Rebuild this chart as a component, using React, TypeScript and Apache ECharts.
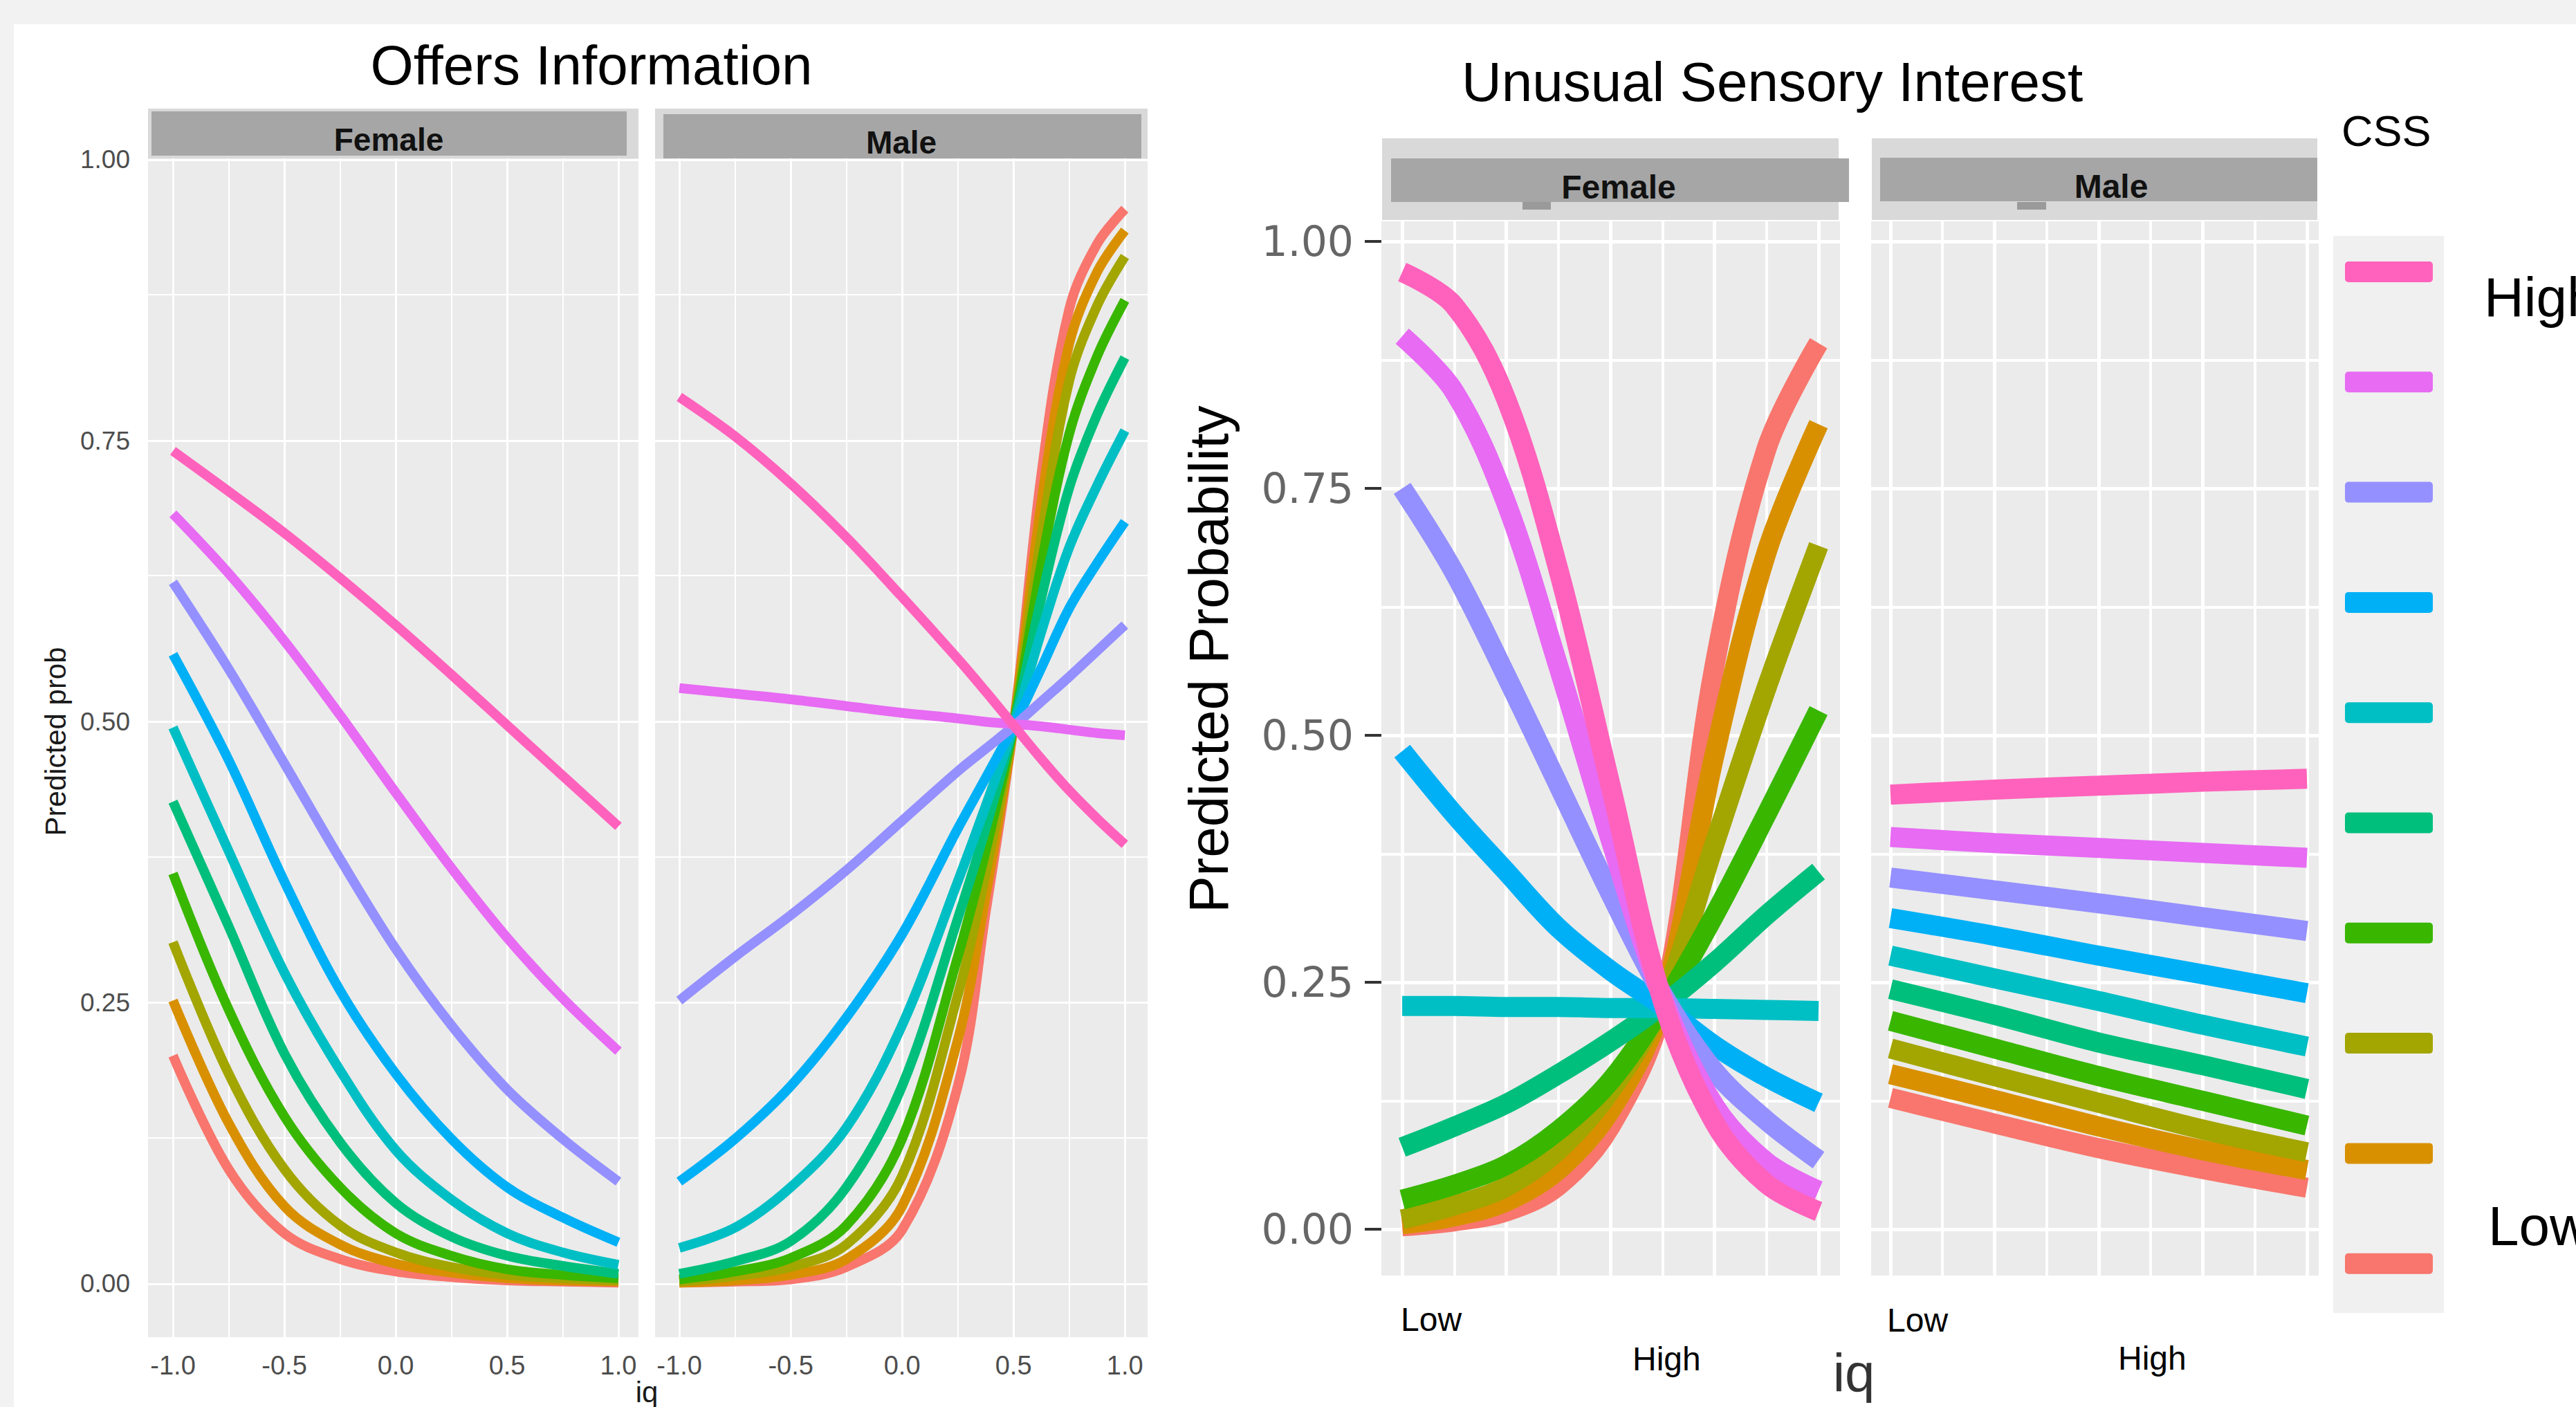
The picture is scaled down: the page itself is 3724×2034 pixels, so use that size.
import React, { useEffect, useRef } from "react";
import * as echarts from "echarts";

// CSS levels, drawn from Low to High (ggplot hue palette)
const CSS_COLORS = ["#F8766D", "#D89000", "#A3A500", "#39B600", "#00BF7D", "#00BFC4", "#00B0F6", "#9590FF", "#E76BF3", "#FF62BC"];
const CSS_NAMES = ["1", "2", "3", "4", "5", "6", "7", "8", "9", "10"];

// ---- Offers Information (left), x = iq ----
const OI_FEMALE_X = [-1, -0.75, -0.5, -0.25, 0, 0.25, 0.5, 0.75, 1];
const OI_FEMALE = [
  [0.203, 0.102, 0.045, 0.022, 0.011, 0.006, 0.003, 0.002, 0.001],
  [0.252, 0.143, 0.069, 0.035, 0.018, 0.010, 0.005, 0.003, 0.002],
  [0.304, 0.187, 0.102, 0.052, 0.028, 0.015, 0.008, 0.005, 0.003],
  [0.365, 0.244, 0.149, 0.086, 0.045, 0.025, 0.013, 0.008, 0.005],
  [0.429, 0.318, 0.205, 0.126, 0.072, 0.042, 0.025, 0.016, 0.009],
  [0.495, 0.385, 0.277, 0.190, 0.119, 0.075, 0.045, 0.028, 0.017],
  [0.560, 0.466, 0.358, 0.261, 0.187, 0.129, 0.086, 0.059, 0.037],
  [0.624, 0.547, 0.463, 0.378, 0.298, 0.230, 0.173, 0.129, 0.091],
  [0.685, 0.632, 0.572, 0.506, 0.437, 0.370, 0.308, 0.254, 0.207],
  [0.741, 0.705, 0.668, 0.628, 0.586, 0.542, 0.497, 0.452, 0.407],
];
const OI_MALE_X = [-1, -0.75, -0.5, -0.25, 0, 0.25, 0.375, 0.5, 0.625, 0.75, 0.875, 1];
const OI_MALE = [
  [0.001, 0.002, 0.004, 0.015, 0.048, 0.176, 0.330, 0.496, 0.720, 0.867, 0.925, 0.956],
  [0.001, 0.003, 0.008, 0.022, 0.069, 0.217, 0.345, 0.496, 0.695, 0.836, 0.900, 0.937],
  [0.002, 0.007, 0.015, 0.035, 0.096, 0.257, 0.365, 0.496, 0.665, 0.803, 0.870, 0.914],
  [0.004, 0.011, 0.023, 0.052, 0.129, 0.291, 0.385, 0.496, 0.640, 0.756, 0.825, 0.875],
  [0.009, 0.020, 0.038, 0.086, 0.176, 0.325, 0.405, 0.496, 0.610, 0.708, 0.773, 0.824],
  [0.032, 0.050, 0.086, 0.139, 0.230, 0.358, 0.425, 0.496, 0.580, 0.655, 0.710, 0.759],
  [0.091, 0.129, 0.176, 0.237, 0.311, 0.405, 0.450, 0.496, 0.548, 0.601, 0.641, 0.678],
  [0.252, 0.291, 0.328, 0.368, 0.412, 0.456, 0.476, 0.496, 0.518, 0.540, 0.563, 0.586],
  [0.530, 0.525, 0.520, 0.514, 0.508, 0.503, 0.500, 0.498, 0.496, 0.493, 0.490, 0.488],
  [0.789, 0.754, 0.712, 0.664, 0.611, 0.556, 0.527, 0.497, 0.467, 0.439, 0.414, 0.391],
];
const OI_X_TICKS = [-1, -0.5, 0, 0.5, 1];
const OI_X_MINOR = [-0.75, -0.25, 0.25, 0.75];

// ---- Unusual Sensory Interest (right), x = iq from Low (1) to High (5) ----
const USI_FEMALE_X = [1, 1.5, 2, 2.5, 3, 3.5, 4, 4.5, 5];
const USI_FEMALE = [
  [0.003, 0.008, 0.018, 0.044, 0.104, 0.225, 0.570, 0.790, 0.897],
  [0.005, 0.013, 0.028, 0.060, 0.120, 0.228, 0.480, 0.685, 0.815],
  [0.010, 0.024, 0.043, 0.080, 0.140, 0.230, 0.390, 0.548, 0.692],
  [0.030, 0.045, 0.065, 0.100, 0.150, 0.226, 0.318, 0.420, 0.525],
  [0.083, 0.104, 0.127, 0.157, 0.190, 0.227, 0.270, 0.318, 0.362],
  [0.226, 0.226, 0.225, 0.225, 0.224, 0.224, 0.223, 0.222, 0.221],
  [0.484, 0.420, 0.362, 0.305, 0.262, 0.226, 0.186, 0.154, 0.128],
  [0.750, 0.665, 0.560, 0.450, 0.340, 0.238, 0.160, 0.110, 0.070],
  [0.904, 0.848, 0.735, 0.570, 0.395, 0.235, 0.125, 0.068, 0.039],
  [0.969, 0.935, 0.840, 0.668, 0.450, 0.232, 0.108, 0.046, 0.018],
];
const USI_MALE_X = [1, 2, 3, 4, 5];
const USI_MALE = [
  [0.133, 0.107, 0.082, 0.061, 0.042],
  [0.157, 0.131, 0.104, 0.080, 0.060],
  [0.183, 0.155, 0.128, 0.101, 0.078],
  [0.211, 0.183, 0.155, 0.130, 0.105],
  [0.243, 0.217, 0.189, 0.166, 0.142],
  [0.277, 0.254, 0.231, 0.207, 0.185],
  [0.315, 0.297, 0.277, 0.258, 0.239],
  [0.356, 0.343, 0.330, 0.316, 0.302],
  [0.397, 0.391, 0.386, 0.381, 0.376],
  [0.440, 0.445, 0.449, 0.453, 0.456],
];
const USI_X_TICKS = [1, 2, 3, 4, 5];
const USI_X_MINOR = [1.5, 2.5, 3.5, 4.5];

const Y_TICKS = [0, 0.25, 0.5, 0.75, 1];
const Y_MINOR = [0.125, 0.375, 0.625, 0.875];

const FONT = "Liberation Sans";

function gridLineSeries(g: number, xMaj: number[], xMin: number[], wMaj: number, wMin: number) {
  const data: any[] = [];
  xMin.forEach((v) => data.push({ xAxis: v, lineStyle: { width: wMin } }));
  Y_MINOR.forEach((v) => data.push({ yAxis: v, lineStyle: { width: wMin } }));
  xMaj.forEach((v) => data.push({ xAxis: v, lineStyle: { width: wMaj } }));
  Y_TICKS.forEach((v) => data.push({ yAxis: v, lineStyle: { width: wMaj } }));
  return {
    type: "line",
    xAxisIndex: g,
    yAxisIndex: g,
    data: [],
    silent: true,
    z: 1,
    markLine: {
      z: 1,
      silent: true,
      animation: false,
      symbol: ["none", "none"],
      label: { show: false },
      emphasis: { disabled: true },
      lineStyle: { color: "#ffffff", type: "solid", opacity: 1 },
      data,
    },
  };
}

function curveSeries(g: number, xs: number[], vals: number[][], width: number, smooth: number) {
  return vals.map((row, i) => ({
    type: "line",
    name: CSS_NAMES[i],
    xAxisIndex: g,
    yAxisIndex: g,
    data: xs.map((x, j) => [x, row[j]]),
    smooth,
    showSymbol: false,
    symbol: "none",
    silent: true,
    z: 3,
    lineStyle: { width, color: CSS_COLORS[i], cap: "butt" },
    itemStyle: { color: CSS_COLORS[i] },
  }));
}

function txt(text: string, x: number, y: number, size: number, opts: any = {}) {
  return {
    type: "text",
    x,
    y,
    rotation: opts.rotation || 0,
    z: 10,
    style: {
      text,
      fill: opts.fill || "#000000",
      fontSize: size,
      fontFamily: opts.family || FONT,
      fontWeight: opts.weight || "normal",
      align: opts.align || "center",
      verticalAlign: "middle",
    },
  };
}

function rect(x: number, y: number, w: number, h: number, fill: string, r = 0) {
  return { type: "rect", shape: { x, y, width: w, height: h, r }, style: { fill }, z: 0, silent: true };
}

export default function App() {
  const ref = useRef<HTMLDivElement>(null);
  useEffect(() => {
    const chart = echarts.init(ref.current!, null, { renderer: "svg" });

    const leftXAxis = (g: number, min: number, max: number) => ({
      type: "value",
      gridIndex: g,
      min,
      max,
      axisLine: { show: false },
      splitLine: { show: false },
      axisTick: { show: true, customValues: OI_X_TICKS, length: 13, lineStyle: { color: "#333333", width: 3 } },
      axisLabel: {
        show: true,
        customValues: OI_X_TICKS,
        formatter: (v: number) => v.toFixed(1),
        fontSize: 38,
        fontFamily: FONT,
        color: "#4d4d4d",
        margin: 22,
      },
    });
    const rightXAxis = (g: number, min: number, max: number) => ({
      type: "value",
      gridIndex: g,
      min,
      max,
      axisLine: { show: false },
      splitLine: { show: false },
      axisTick: { show: true, customValues: USI_X_TICKS, length: 21, lineStyle: { color: "#3a3a3a", width: 4 } },
      axisLabel: { show: false },
    });
    const yAxis = (g: number, min: number, max: number, labels: boolean, right: boolean) => ({
      type: "value",
      gridIndex: g,
      min,
      max,
      axisLine: { show: false },
      splitLine: { show: false },
      axisTick: {
        show: labels,
        customValues: Y_TICKS,
        length: right ? 24 : 13,
        lineStyle: { color: "#333333", width: right ? 4 : 3 },
      },
      axisLabel: {
        show: labels,
        customValues: Y_TICKS,
        formatter: (v: number) => v.toFixed(2),
        fontSize: right ? 60 : 37,
        fontFamily: right ? "DejaVu Sans" : FONT,
        color: right ? "#666666" : "#4d4d4d",
        margin: right ? 40 : 26,
      },
    });

    const gridStyle = { show: true, backgroundColor: "#EBEBEB", borderWidth: 0, containLabel: false };

    const legendEls: any[] = [rect(3373, 341, 160, 1557, "#f0f0f0")];
    const highToLow = CSS_COLORS.slice().reverse();
    highToLow.forEach((c, i) => {
      legendEls.push(rect(3390, 393 + 159.3 * i - 15, 127, 30, c, 5));
    });

    const option: any = {
      animation: false,
      backgroundColor: "#ffffff",
      textStyle: { fontFamily: FONT },
      grid: [
        { ...gridStyle, left: 214, top: 229, width: 709, height: 1704 },
        { ...gridStyle, left: 947, top: 229, width: 712, height: 1704 },
        { ...gridStyle, left: 1997, top: 320, width: 663, height: 1524 },
        { ...gridStyle, left: 2705, top: 320, width: 647, height: 1524 },
      ],
      xAxis: [
        leftXAxis(0, -1.112, 1.09),
        leftXAxis(1, -1.109, 1.102),
        rightXAxis(2, 0.8, 5.206),
        rightXAxis(3, 0.814, 5.113),
      ],
      yAxis: [
        yAxis(0, -0.0474, 1.0012, true, false),
        yAxis(1, -0.0474, 1.0012, false, false),
        yAxis(2, -0.0469, 1.0203, true, true),
        yAxis(3, -0.0469, 1.0203, false, true),
      ],
      series: [
        gridLineSeries(0, OI_X_TICKS, OI_X_MINOR, 3, 2),
        gridLineSeries(1, OI_X_TICKS, OI_X_MINOR, 3, 2),
        gridLineSeries(2, USI_X_TICKS, USI_X_MINOR, 5, 4),
        gridLineSeries(3, USI_X_TICKS, USI_X_MINOR, 5, 4),
        ...curveSeries(0, OI_FEMALE_X, OI_FEMALE, 14, 0.35),
        ...curveSeries(1, OI_MALE_X, OI_MALE, 14, 0.35),
        ...curveSeries(2, USI_FEMALE_X, USI_FEMALE, 29, 0.35),
        ...curveSeries(3, USI_MALE_X, USI_MALE, 29, 0.35),
      ],
      graphic: {
        elements: [
          // page edges
          rect(0, 0, 3724, 35, "#f2f2f2"),
          rect(0, 35, 20, 1999, "#f2f2f2"),
          // left chart strips
          rect(214, 157, 709, 72, "#d9d9d9"),
          rect(219, 161, 687, 64, "#a6a6a6"),
          rect(947, 157, 712, 72, "#d9d9d9"),
          rect(959, 165, 691, 64, "#a6a6a6"),
          txt("Female", 562, 202, 46, { weight: "bold", fill: "#111111" }),
          txt("Male", 1303, 206, 46, { weight: "bold", fill: "#111111" }),
          // right chart strips
          rect(1998, 200, 660, 118, "#d9d9d9"),
          rect(2011, 229, 662, 63, "#a6a6a6"),
          rect(2706, 200, 644, 118, "#d9d9d9"),
          rect(2718, 228, 632, 63, "#a6a6a6"),
          rect(2201, 292, 41, 11, "#9a9a9a"),
          rect(2916, 292, 42, 11, "#9a9a9a"),
          txt("Female", 2340, 270, 48, { weight: "bold", fill: "#111111" }),
          txt("Male", 3052, 269, 48, { weight: "bold", fill: "#111111" }),
          // titles
          txt("Offers Information", 855, 94, 80),
          txt("Unusual Sensory Interest", 2562, 118, 80),
          // left axis titles
          txt("Predicted prob", 80, 1072, 42, { rotation: Math.PI / 2, fill: "#1a1a1a" }),
          txt("iq", 935, 2012, 42, { fill: "#1a1a1a" }),
          // right axis titles and labels
          txt("Predicted Probability", 1747, 953, 80, { rotation: Math.PI / 2 }),
          txt("Low", 2025, 1907, 48, { align: "left" }),
          txt("High", 2360, 1964, 48, { align: "left" }),
          txt("Low", 2728, 1908, 48, { align: "left" }),
          txt("High", 3062, 1963, 48, { align: "left" }),
          txt("iq", 2680, 1985, 78, { fill: "#333333" }),
          // legend
          ...legendEls,
          txt("CSS", 3385, 189, 63, { align: "left" }),
          txt("High", 3591, 429, 80, { align: "left" }),
          txt("Low", 3597, 1772, 80, { align: "left" }),
        ],
      },
    };

    chart.setOption(option);
    return () => chart.dispose();
  }, []);

  return <div ref={ref} style={{ position: "fixed", left: 0, top: 0, width: 3724, height: 2034 }} />;
}
